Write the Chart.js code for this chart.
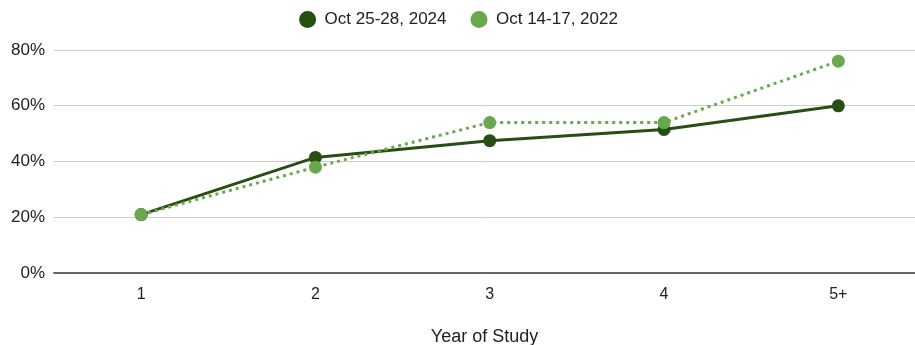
<!DOCTYPE html>
<html>
<head>
<meta charset="utf-8">
<script src="https://cdn.jsdelivr.net/npm/chart.js@4/dist/chart.umd.min.js"></script>
<style>
  html, body { margin: 0; padding: 0; background: #fff; }
  #wrap { width: 915px; height: 345px; position: relative; }
</style>
</head>
<body>
<div id="wrap"><canvas id="c"></canvas></div>
<script>
// Share of students by year of study, two survey waves
const categories = ['1', '2', '3', '4', '5+'];
const wave2024 = [21, 41.5, 47.5, 51.5, 60];
const wave2022 = [21, 38, 54, 54, 76];
const yTicks = [0, 20, 40, 60, 80];

const toPoints = vals => vals.map((v, i) => ({ x: i + 1, y: v }));

Chart.defaults.font.family = '"Liberation Sans", Arial, sans-serif';

// Extra gap between the legend row and the plot area
const legendGap = {
  id: 'legendGap',
  afterInit(chart) {
    const legend = chart.legend;
    const fit = legend.fit;
    legend.fit = function () {
      fit.call(legend);
      legend.height += 12;
    };
  }
};

new Chart(document.getElementById('c'), {
  type: 'line',
  plugins: [legendGap],
  data: {
    datasets: [
      {
        label: 'Oct 25-28, 2024',
        data: toPoints(wave2024),
        borderColor: '#274e13',
        backgroundColor: '#274e13',
        borderWidth: 3,
        pointRadius: 6.5,
        pointHoverRadius: 6.5,
        pointBorderWidth: 0,
        tension: 0,
        order: 1
      },
      {
        label: 'Oct 14-17, 2022',
        data: toPoints(wave2022),
        borderColor: '#6aa84f',
        backgroundColor: '#6aa84f',
        borderWidth: 3,
        borderDash: [3, 4],
        pointRadius: 6.5,
        pointHoverRadius: 6.5,
        pointBorderWidth: 0,
        tension: 0,
        order: 0
      }
    ]
  },
  options: {
    responsive: true,
    maintainAspectRatio: false,
    animation: false,
    layout: { autoPadding: false, padding: { left: 2, right: 0, top: -13, bottom: -3 } },
    plugins: {
      tooltip: { enabled: false },
      legend: {
        position: 'top',
        labels: {
          usePointStyle: true,
          pointStyle: 'circle',
          boxWidth: 12,
          boxHeight: 12,
          pointStyleWidth: 17,
          padding: 24,
          color: '#222',
          font: { size: 17 },
          sort: (a, b) => a.datasetIndex - b.datasetIndex
        }
      }
    },
    scales: {
      x: {
        type: 'linear',
        min: 0.5,
        max: 5.44,
        afterBuildTicks: scale => {
          scale.ticks = categories.map((c, i) => ({ value: i + 1 }));
        },
        ticks: {
          callback: v => categories[v - 1],
          color: '#222',
          font: { size: 16 },
          padding: 12
        },
        grid: { display: false, drawTicks: false },
        border: { display: true, color: '#666', width: 1.5 },
        title: {
          display: true,
          text: 'Year of Study',
          color: '#222',
          font: { size: 18 },
          padding: { top: 10, bottom: 0 }
        }
      },
      y: {
        min: 0,
        max: 80,
        afterBuildTicks: scale => {
          scale.ticks = yTicks.map(v => ({ value: v }));
        },
        ticks: {
          callback: v => v + '%',
          color: '#222',
          font: { size: 17 },
          padding: 9
        },
        grid: {
          color: ctx => ctx.tick && ctx.tick.value === 0 ? '#666' : '#cccccc',
          lineWidth: 1,
          drawTicks: false
        },
        border: { display: false }
      }
    }
  }
});
</script>
</body>
</html>
